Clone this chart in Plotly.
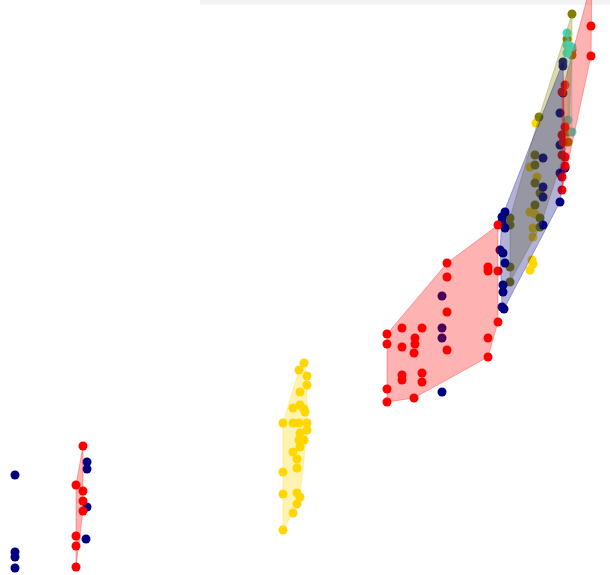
import plotly.graph_objects as go

# ---- data (pixel-space coordinates) ----
navy_left_x = [15, 15, 15, 15]
navy_left_y = [475, 552, 557, 568]

red_bl_x = [83, 76, 83, 83, 83, 76, 76, 76]
red_bl_y = [446, 485, 491, 501, 511, 536, 546, 567]

navy_bl_x = [87, 87, 87, 86]
navy_bl_y = [462, 469, 507, 539]

yellow_x = [304, 299, 307, 307, 300, 293, 300, 304, 305, 283, 293, 299, 307, 307, 300, 299, 304,
            300, 293, 297, 297, 283, 283, 297, 300, 297, 293, 283]
yellow_y = [363, 370, 376, 385, 392, 408, 405, 409, 412, 423, 423, 423, 423, 430, 433, 440, 440,
            447, 452, 459, 468, 472, 494, 493, 497, 504, 513, 530]

red_mid_x = [498, 447, 447, 488, 488, 498, 447, 498, 402, 422, 387, 415, 387, 402, 415, 414, 488,
             447, 488, 402, 402, 422, 422, 387, 387, 414]
red_mid_y = [225, 263, 277, 267, 271, 271, 312, 322, 328, 328, 334, 338, 344, 347, 344, 353, 338,
             350, 357, 375, 380, 373, 382, 389, 402, 398]

navy_mid_x = [442, 442, 442, 442]
navy_mid_y = [296, 328, 338, 392]

navy_ur_x = [563, 563, 563, 560, 560, 565, 560, 560, 543, 543, 543, 505, 502, 502, 505, 500, 503,
             505, 503, 503, 502, 504, 543]
navy_ur_y = [62, 66, 93, 113, 145, 168, 173, 202, 158, 187, 197, 212, 217, 222, 228, 250, 253,
             263, 285, 292, 307, 309, 225]

olive_x = [572, 567, 572, 572, 568, 568, 539, 535, 535, 535, 540, 535, 510, 510, 510, 510, 540, 540]
olive_y = [14, 39, 50, 55, 132, 142, 117, 155, 165, 183, 193, 205, 218, 225, 267, 282, 218, 227]

turq_x = [567, 567, 572, 567, 568, 572]
turq_y = [33, 45, 47, 53, 120, 132]

yellow_ur_x = [536, 530, 537, 530, 535, 533, 533, 532, 533, 530]
yellow_ur_y = [123, 167, 177, 212, 214, 228, 237, 260, 264, 270]

red_ur_x = [592, 591, 591, 565, 562, 565, 562, 563, 562, 565, 565, 562, 562]
red_ur_y = [-20, 26, 56, 85, 92, 127, 135, 142, 155, 157, 166, 177, 190]

RED, NAVY, GOLD, OLIVE, TURQ = "#FF0000", "#000080", "#FFD700", "#808000", "#40E0D0"


def hull(xs, ys):
    pts = sorted(set(zip(xs, ys)))
    if len(pts) < 3:
        return [p[0] for p in pts], [p[1] for p in pts]

    def cross(o, a, b):
        return (a[0] - o[0]) * (b[1] - o[1]) - (a[1] - o[1]) * (b[0] - o[0])

    lower, upper = [], []
    for p in pts:
        while len(lower) >= 2 and cross(lower[-2], lower[-1], p) <= 0:
            lower.pop()
        lower.append(p)
    for p in reversed(pts):
        while len(upper) >= 2 and cross(upper[-2], upper[-1], p) <= 0:
            upper.pop()
        upper.append(p)
    h = lower[:-1] + upper[:-1]
    h.append(h[0])
    return [p[0] for p in h], [p[1] for p in h]


def rgba(hexc, a):
    hexc = hexc.lstrip("#")
    r, g, b = int(hexc[0:2], 16), int(hexc[2:4], 16), int(hexc[4:6], 16)
    return f"rgba({r},{g},{b},{a})"


groups = [
    (navy_left_x, navy_left_y, NAVY, False),
    (navy_bl_x, navy_bl_y, NAVY, False),
    (navy_mid_x, navy_mid_y, NAVY, False),
    (yellow_ur_x, yellow_ur_y, GOLD, False),
    (olive_x, olive_y, OLIVE, True),
    (navy_ur_x, navy_ur_y, NAVY, True),
    (turq_x, turq_y, TURQ, True),
    (red_bl_x, red_bl_y, RED, True),
    (yellow_x, yellow_y, GOLD, True),
    (red_mid_x, red_mid_y, RED, True),
    (red_ur_x, red_ur_y, RED, True),
]

fig = go.Figure()
for xs, ys, col, _ in groups:
    fig.add_trace(go.Scatter(x=xs, y=ys, mode="markers",
                             marker=dict(color=col, size=9, line=dict(width=0)),
                             showlegend=False, hoverinfo="skip", cliponaxis=True))

hull_order = [4, 5, 6, 7, 8, 9, 10]
for i in hull_order:
    xs, ys, col, _ = groups[i]
    hx, hy = hull(xs, ys)
    fig.add_trace(go.Scatter(x=hx, y=hy, mode="lines", fill="toself",
                             fillcolor=rgba(col, 0.3),
                             line=dict(color=rgba(col, 0.3), width=1),
                             showlegend=False, hoverinfo="skip"))

fig.add_shape(type="rect", x0=200, x1=610, y0=0, y1=5, fillcolor="#f3f3f3",
              line=dict(width=0), layer="below")

fig.update_layout(
    width=610, height=575, autosize=False,
    margin=dict(l=0, r=0, t=0, b=0),
    paper_bgcolor="white", plot_bgcolor="white",
    xaxis=dict(visible=False, range=[0, 610], fixedrange=True),
    yaxis=dict(visible=False, range=[575, 0], fixedrange=True),
)
fig.write_html("out.html", config={"displayModeBar": False},
               post_script="document.body.style.margin='0';document.body.style.overflow='hidden';")
